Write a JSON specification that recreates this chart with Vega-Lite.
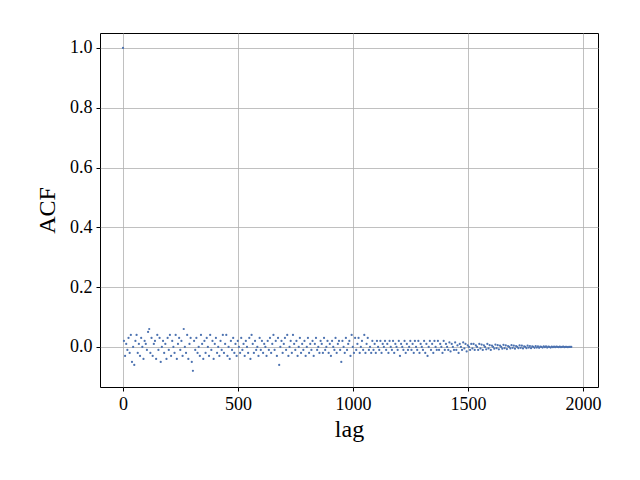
{
  "$schema": "https://vega.github.io/schema/vega-lite/v6.json",
  "width": 498,
  "height": 354,
  "autosize": {"type": "none"},
  "padding": {"left": 100, "top": 33, "right": 42, "bottom": 93},
  "data": {"values": [
    {"l":0,"a":1.0},{"l":4,"a":0.02},{"l":9,"a":-0.03},{"l":14,"a":0.01},{"l":19,"a":-0.01},{"l":24,"a":0.03},{"l":29,"a":-0.02},{"l":34,"a":0.04},{"l":39,"a":-0.05},{"l":44,"a":0.0},{"l":49,"a":-0.06},{"l":54,"a":0.02},{"l":59,"a":0.04},{"l":64,"a":-0.02},{"l":69,"a":0.01},{"l":74,"a":-0.03},{"l":79,"a":0.03},{"l":84,"a":0.0},{"l":89,"a":-0.04},{"l":94,"a":0.02},{"l":99,"a":0.01},{"l":104,"a":-0.01},{"l":109,"a":0.05},{"l":114,"a":0.06},{"l":119,"a":-0.02},{"l":124,"a":0.03},{"l":129,"a":-0.03},{"l":134,"a":0.01},{"l":139,"a":0.02},{"l":144,"a":-0.04},{"l":149,"a":0.04},{"l":154,"a":-0.01},{"l":159,"a":0.03},{"l":164,"a":-0.05},{"l":169,"a":0.0},{"l":174,"a":0.02},{"l":179,"a":-0.02},{"l":184,"a":0.01},{"l":189,"a":-0.04},{"l":194,"a":0.03},{"l":199,"a":-0.01},{"l":204,"a":0.04},{"l":209,"a":-0.03},{"l":214,"a":0.02},{"l":219,"a":0.0},{"l":224,"a":-0.02},{"l":229,"a":0.04},{"l":234,"a":-0.04},{"l":239,"a":0.01},{"l":244,"a":0.03},{"l":249,"a":-0.01},{"l":254,"a":0.02},{"l":259,"a":-0.03},{"l":264,"a":0.06},{"l":269,"a":0.0},{"l":274,"a":-0.02},{"l":279,"a":0.04},{"l":284,"a":-0.04},{"l":289,"a":0.01},{"l":294,"a":0.03},{"l":299,"a":-0.05},{"l":304,"a":-0.08},{"l":309,"a":0.02},{"l":314,"a":-0.01},{"l":319,"a":0.03},{"l":324,"a":-0.02},{"l":329,"a":0.0},{"l":334,"a":-0.03},{"l":339,"a":0.04},{"l":344,"a":0.01},{"l":349,"a":-0.04},{"l":354,"a":0.02},{"l":359,"a":-0.02},{"l":364,"a":0.03},{"l":369,"a":0.0},{"l":374,"a":-0.03},{"l":379,"a":0.04},{"l":384,"a":-0.01},{"l":389,"a":0.02},{"l":394,"a":-0.04},{"l":399,"a":0.01},{"l":404,"a":0.03},{"l":409,"a":-0.02},{"l":414,"a":0.0},{"l":419,"a":-0.03},{"l":424,"a":0.02},{"l":429,"a":-0.01},{"l":434,"a":0.04},{"l":439,"a":-0.02},{"l":444,"a":0.01},{"l":449,"a":0.04},{"l":454,"a":-0.03},{"l":459,"a":0.0},{"l":464,"a":-0.04},{"l":469,"a":0.02},{"l":474,"a":-0.01},{"l":479,"a":0.03},{"l":484,"a":-0.02},{"l":489,"a":0.01},{"l":494,"a":-0.03},{"l":499,"a":0.02},{"l":504,"a":0.0},{"l":509,"a":-0.02},{"l":514,"a":0.03},{"l":519,"a":-0.01},{"l":524,"a":0.01},{"l":529,"a":-0.03},{"l":534,"a":0.02},{"l":539,"a":0.0},{"l":544,"a":-0.02},{"l":549,"a":0.03},{"l":554,"a":-0.04},{"l":559,"a":0.04},{"l":564,"a":0.01},{"l":569,"a":-0.02},{"l":574,"a":0.02},{"l":579,"a":-0.01},{"l":584,"a":0.0},{"l":589,"a":-0.03},{"l":594,"a":0.03},{"l":599,"a":-0.01},{"l":604,"a":0.02},{"l":609,"a":-0.02},{"l":614,"a":0.01},{"l":619,"a":0.0},{"l":624,"a":-0.03},{"l":629,"a":0.02},{"l":634,"a":-0.01},{"l":639,"a":0.03},{"l":644,"a":-0.02},{"l":649,"a":0.01},{"l":654,"a":0.04},{"l":659,"a":-0.01},{"l":664,"a":0.02},{"l":669,"a":-0.03},{"l":674,"a":0.03},{"l":679,"a":-0.06},{"l":684,"a":0.0},{"l":689,"a":0.02},{"l":694,"a":-0.02},{"l":699,"a":0.01},{"l":704,"a":0.03},{"l":709,"a":-0.01},{"l":714,"a":0.04},{"l":719,"a":-0.03},{"l":724,"a":0.0},{"l":729,"a":0.02},{"l":734,"a":-0.02},{"l":739,"a":0.04},{"l":744,"a":0.01},{"l":749,"a":-0.01},{"l":754,"a":0.02},{"l":759,"a":-0.03},{"l":764,"a":0.0},{"l":769,"a":0.03},{"l":774,"a":-0.02},{"l":779,"a":0.01},{"l":784,"a":-0.01},{"l":789,"a":0.02},{"l":794,"a":-0.03},{"l":799,"a":0.0},{"l":804,"a":0.03},{"l":809,"a":-0.02},{"l":814,"a":0.01},{"l":819,"a":-0.01},{"l":824,"a":0.02},{"l":829,"a":-0.03},{"l":834,"a":0.01},{"l":839,"a":0.03},{"l":844,"a":-0.01},{"l":849,"a":0.0},{"l":854,"a":-0.02},{"l":859,"a":0.02},{"l":864,"a":0.01},{"l":869,"a":-0.02},{"l":874,"a":0.03},{"l":879,"a":-0.01},{"l":884,"a":0.0},{"l":889,"a":0.02},{"l":894,"a":-0.02},{"l":899,"a":0.01},{"l":904,"a":-0.03},{"l":909,"a":0.02},{"l":914,"a":0.0},{"l":919,"a":-0.01},{"l":924,"a":0.03},{"l":929,"a":-0.02},{"l":934,"a":0.01},{"l":939,"a":0.02},{"l":944,"a":-0.01},{"l":949,"a":-0.05},{"l":954,"a":0.02},{"l":959,"a":0.0},{"l":964,"a":-0.02},{"l":969,"a":0.03},{"l":974,"a":-0.01},{"l":979,"a":0.01},{"l":984,"a":0.02},{"l":989,"a":-0.03},{"l":994,"a":0.04},{"l":999,"a":0.0},{"l":1004,"a":-0.02},{"l":1009,"a":0.03},{"l":1014,"a":-0.01},{"l":1019,"a":0.01},{"l":1024,"a":0.03},{"l":1029,"a":-0.02},{"l":1034,"a":0.0},{"l":1039,"a":0.02},{"l":1044,"a":-0.01},{"l":1049,"a":0.04},{"l":1054,"a":-0.02},{"l":1059,"a":0.01},{"l":1064,"a":0.03},{"l":1069,"a":-0.01},{"l":1074,"a":0.0},{"l":1079,"a":-0.02},{"l":1084,"a":0.02},{"l":1089,"a":-0.01},{"l":1094,"a":0.01},{"l":1099,"a":-0.02},{"l":1104,"a":0.02},{"l":1109,"a":0.0},{"l":1114,"a":-0.01},{"l":1119,"a":0.02},{"l":1124,"a":-0.02},{"l":1129,"a":0.01},{"l":1134,"a":0.0},{"l":1139,"a":0.02},{"l":1144,"a":-0.01},{"l":1149,"a":0.01},{"l":1154,"a":-0.02},{"l":1159,"a":0.02},{"l":1164,"a":0.0},{"l":1169,"a":-0.01},{"l":1174,"a":0.02},{"l":1179,"a":-0.02},{"l":1184,"a":0.01},{"l":1189,"a":0.0},{"l":1194,"a":-0.01},{"l":1199,"a":0.02},{"l":1204,"a":-0.03},{"l":1209,"a":0.01},{"l":1214,"a":0.0},{"l":1219,"a":-0.01},{"l":1224,"a":0.02},{"l":1229,"a":-0.02},{"l":1234,"a":0.01},{"l":1239,"a":-0.01},{"l":1244,"a":0.0},{"l":1249,"a":0.02},{"l":1254,"a":-0.01},{"l":1259,"a":0.01},{"l":1264,"a":-0.02},{"l":1269,"a":0.02},{"l":1274,"a":0.0},{"l":1279,"a":-0.01},{"l":1284,"a":0.02},{"l":1289,"a":-0.02},{"l":1294,"a":0.01},{"l":1299,"a":0.0},{"l":1304,"a":-0.01},{"l":1309,"a":0.02},{"l":1314,"a":-0.02},{"l":1319,"a":0.01},{"l":1324,"a":-0.03},{"l":1329,"a":0.0},{"l":1334,"a":0.02},{"l":1339,"a":-0.01},{"l":1344,"a":0.01},{"l":1349,"a":-0.02},{"l":1354,"a":0.02},{"l":1359,"a":0.0},{"l":1364,"a":-0.01},{"l":1369,"a":0.02},{"l":1374,"a":-0.01},{"l":1379,"a":0.01},{"l":1384,"a":0.0},{"l":1389,"a":-0.02},{"l":1394,"a":0.02},{"l":1399,"a":-0.01},{"l":1404,"a":0.01},{"l":1409,"a":0.0},{"l":1414,"a":-0.01},{"l":1419,"a":0.015},{"l":1424,"a":-0.015},{"l":1429,"a":0.01},{"l":1434,"a":0.0},{"l":1439,"a":-0.01},{"l":1444,"a":0.015},{"l":1449,"a":-0.01},{"l":1454,"a":0.005},{"l":1459,"a":-0.02},{"l":1464,"a":0.01},{"l":1469,"a":0.0},{"l":1474,"a":-0.01},{"l":1479,"a":0.015},{"l":1484,"a":-0.005},{"l":1489,"a":0.01},{"l":1494,"a":-0.015},{"l":1499,"a":0.005},{"l":1504,"a":0.0},{"l":1509,"a":-0.01},{"l":1514,"a":0.01},{"l":1519,"a":-0.005},{"l":1524,"a":0.01},{"l":1529,"a":-0.01},{"l":1534,"a":0.005},{"l":1539,"a":0.0},{"l":1544,"a":-0.01},{"l":1549,"a":0.01},{"l":1554,"a":-0.005},{"l":1559,"a":0.008},{"l":1564,"a":-0.01},{"l":1569,"a":0.005},{"l":1574,"a":0.0},{"l":1579,"a":-0.008},{"l":1584,"a":0.01},{"l":1589,"a":-0.005},{"l":1594,"a":0.006},{"l":1599,"a":-0.01},{"l":1604,"a":0.004},{"l":1609,"a":0.0},{"l":1614,"a":-0.006},{"l":1619,"a":0.008},{"l":1624,"a":-0.004},{"l":1629,"a":0.006},{"l":1634,"a":-0.008},{"l":1639,"a":0.004},{"l":1644,"a":0.0},{"l":1649,"a":-0.006},{"l":1654,"a":0.007},{"l":1659,"a":-0.004},{"l":1664,"a":0.005},{"l":1669,"a":-0.007},{"l":1674,"a":0.003},{"l":1679,"a":0.0},{"l":1684,"a":-0.005},{"l":1689,"a":0.006},{"l":1694,"a":-0.003},{"l":1699,"a":0.004},{"l":1704,"a":-0.006},{"l":1709,"a":0.003},{"l":1714,"a":0.0},{"l":1719,"a":-0.004},{"l":1724,"a":0.005},{"l":1729,"a":-0.003},{"l":1734,"a":0.004},{"l":1739,"a":-0.005},{"l":1744,"a":0.002},{"l":1749,"a":0.0},{"l":1754,"a":-0.004},{"l":1759,"a":0.004},{"l":1764,"a":-0.002},{"l":1769,"a":0.003},{"l":1774,"a":-0.004},{"l":1779,"a":0.002},{"l":1784,"a":0.0},{"l":1789,"a":-0.003},{"l":1794,"a":0.003},{"l":1799,"a":-0.002},{"l":1804,"a":0.002},{"l":1809,"a":-0.003},{"l":1814,"a":0.001},{"l":1819,"a":0.0},{"l":1824,"a":-0.002},{"l":1829,"a":0.002},{"l":1834,"a":-0.001},{"l":1839,"a":0.002},{"l":1844,"a":-0.002},{"l":1849,"a":0.001},{"l":1854,"a":0.0},{"l":1859,"a":-0.002},{"l":1864,"a":0.001},{"l":1869,"a":-0.001},{"l":1874,"a":0.001},{"l":1879,"a":-0.001},{"l":1884,"a":0.001},{"l":1889,"a":0.0},{"l":1894,"a":-0.001},{"l":1899,"a":0.001},{"l":1904,"a":-0.001},{"l":1909,"a":0.0},{"l":1914,"a":0.001},{"l":1919,"a":-0.001},{"l":1924,"a":0.0},{"l":1929,"a":0.0},{"l":1934,"a":-0.001},{"l":1939,"a":0.0},{"l":1944,"a":0.0},{"l":1949,"a":0.0}
  ]},
  "mark": {"type": "circle", "size": 5, "opacity": 1, "color": "#4c72b0"},
  "encoding": {
    "x": {"field": "l", "type": "quantitative", "title": "lag",
          "scale": {"domain": [-100, 2065], "nice": false, "zero": false},
          "axis": {"values": [0, 500, 1000, 1500, 2000], "format": "d"}},
    "y": {"field": "a", "type": "quantitative", "title": "ACF",
          "scale": {"domain": [-0.134, 1.05], "nice": false, "zero": false},
          "axis": {"values": [0, 0.2, 0.4, 0.6, 0.8, 1.0], "format": ".1f"}}
  },
  "config": {
    "font": "Liberation Serif",
    "view": {"stroke": "black", "strokeWidth": 1},
    "axis": {
      "gridColor": "#b0b0b0", "gridWidth": 0.8, "gridOpacity": 1,
      "domain": false, "tickColor": "black", "tickSize": 4,
      "labelFontSize": 18, "labelColor": "black", "labelPadding": 4,
      "titleFontSize": 24, "titleFontWeight": "normal", "titleColor": "black"
    },
    "axisX": {"titlePadding": 4},
    "axisY": {"titlePadding": 10}
  }
}
